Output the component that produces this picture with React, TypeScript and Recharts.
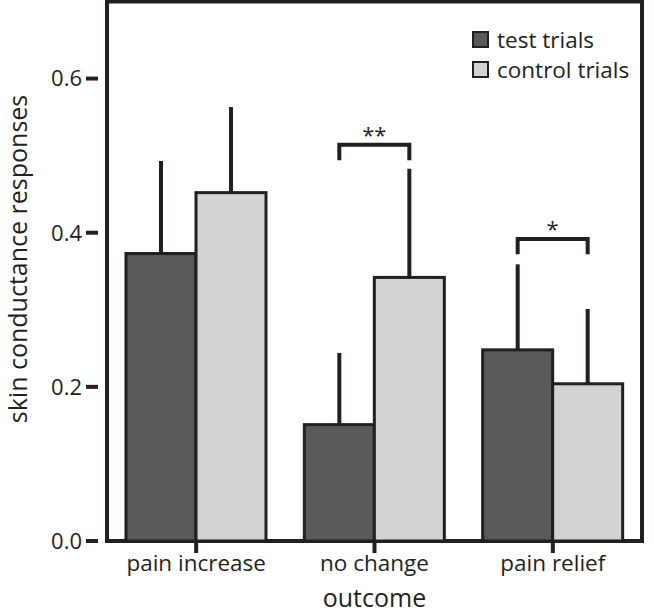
import {
  Bar, BarChart, ErrorBar, Legend, ReferenceArea, XAxis, YAxis,
} from "recharts";

const INK = "#231f20";
const DARK = "#58595b";
const LIGHT = "#d1d3d4";
const FONT = "'Open Sans', sans-serif";

// values
const categories = ["pain increase", "no change", "pain relief"];
const testMeans = [0.373, 0.151, 0.248];
const testErr = [0.12, 0.093, 0.111];
const controlMeans = [0.452, 0.342, 0.204];
const controlErr = [0.111, 0.141, 0.097];
// significance brackets (null = none)
const bracketLevel = [null, 0.514, 0.392];
const bracketStars = ["", "**", "*"];
const yTicks = [0, 0.2, 0.4, 0.6];
const seriesOrder = ["test", "control"];

const data = categories.map((name, i) => ({
  name,
  test: testMeans[i],
  control: controlMeans[i],
  testErr: [0, testErr[i]],
  controlErr: [0, controlErr[i]],
  bracket: bracketLevel[i],
  stars: bracketStars[i],
}));

// control bar + the bracket spanning both bars of the group
function ControlShape(props: any) {
  const { x, y, width, height, payload, fill } = props;
  const base = y + height;
  const perUnit = height / payload.control;
  const toY = (v: number) => base - v * perUnit;
  const left = x - width / 2;
  const right = x + width / 2;
  return (
    <g>
      <rect x={x} y={y} width={width} height={height} fill={fill} stroke={INK} strokeWidth={3} />
      {payload.bracket != null && (
        <g>
          <path
            d={`M${left},${toY(payload.bracket - 0.02)} V${toY(payload.bracket)} H${right} V${toY(payload.bracket - 0.02)}`}
            fill="none" stroke={INK} strokeWidth={4}
          />
          <text x={(left + right) / 2} y={toY(payload.bracket) - 2} textAnchor="middle"
            fontSize={22} fill={INK} fontFamily={FONT}>{payload.stars}</text>
        </g>
      )}
    </g>
  );
}

function TestShape(props: any) {
  const { x, y, width, height, fill } = props;
  return <rect x={x} y={y} width={width} height={height} fill={fill} stroke={INK} strokeWidth={3} />;
}

function LegendBox({ payload }: any) {
  const items = [...(payload ?? [])].sort(
    (a: any, b: any) => seriesOrder.indexOf(a.dataKey) - seriesOrder.indexOf(b.dataKey));
  return (
    <div style={{ fontFamily: FONT, fontSize: 22.5, color: INK }}>
      {items.map((p: any) => (
        <div key={p.value} style={{ display: "flex", alignItems: "center", height: 30 }}>
          <span style={{
            display: "inline-block", width: 13, height: 13, background: p.color,
            border: `2px solid ${INK}`, marginRight: 8,
          }} />
          {p.value}
        </div>
      ))}
    </div>
  );
}

function YLabel() {
  const cx = 20;
  const cy = 259;
  return (
    <text x={cx} y={cy} transform={`rotate(-90 ${cx} ${cy})`} textAnchor="middle"
      dominantBaseline="middle" fontSize={25} fill={INK} fontFamily={FONT}>
      skin conductance responses
    </text>
  );
}

export default function App() {
  return (
    <div style={{ position: "absolute", left: 0, top: 0, fontFamily: FONT, background: "#fff" }}>
      <BarChart width={654} height={613} data={data} barCategoryGap={19} barGap={0}
        margin={{ top: 1.5, right: 3, left: 0, bottom: 0 }}>
        <ReferenceArea y1={0} y2={0.7} fill="none" stroke={INK} strokeWidth={4} ifOverflow="visible" />
        <XAxis dataKey="name" height={72} padding={{ left: 9, right: 9 }}
          axisLine={false} tickSize={12} tickMargin={2}
          tickLine={{ stroke: INK, strokeWidth: 4 }}
          tick={{ fontSize: 22.5, fill: INK }}
          label={{ value: "outcome", position: "insideBottom", offset: 6, fontSize: 25, fill: INK }} />
        <YAxis type="number" domain={[0, 0.7]} ticks={yTicks} width={98}
          axisLine={false} tickSize={12} tickMargin={4}
          tickLine={{ stroke: INK, strokeWidth: 4 }}
          tick={{ fontSize: 22, fill: INK }}
          tickFormatter={(v: number) => v.toFixed(1)}
          label={{ content: YLabel }} />
        <Legend layout="horizontal" verticalAlign="middle" align="center" content={LegendBox}
          wrapperStyle={{ position: "absolute", top: 24, left: 472, width: 180 }} />
        <Bar dataKey="test" name="test trials" fill={DARK} shape={TestShape} isAnimationActive={false}>
          <ErrorBar dataKey="testErr" width={0} stroke={INK} strokeWidth={4} direction="y" />
        </Bar>
        <Bar dataKey="control" name="control trials" fill={LIGHT} shape={ControlShape} isAnimationActive={false}>
          <ErrorBar dataKey="controlErr" width={0} stroke={INK} strokeWidth={4} direction="y" />
        </Bar>
      </BarChart>
    </div>
  );
}
